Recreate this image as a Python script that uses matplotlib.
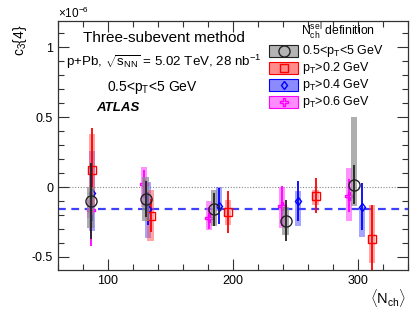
import matplotlib
matplotlib.use("Agg")
import matplotlib.pyplot as plt
from matplotlib.patches import Rectangle
from matplotlib.lines import Line2D
from matplotlib.ticker import MultipleLocator

plt.rcParams['font.family'] = ['Liberation Sans', 'DejaVu Sans']
plt.rcParams['mathtext.fontset'] = 'custom'
plt.rcParams['mathtext.rm'] = 'Liberation Sans'
plt.rcParams['mathtext.it'] = 'Liberation Sans:italic'
plt.rcParams['mathtext.bf'] = 'Liberation Sans:bold'
plt.rcParams['axes.unicode_minus'] = False

# ---- data (values in units of 1e-6) ----
series_labels = ["0.5<p$_{\\rm T}$<5 GeV", "p$_{\\rm T}$>0.2 GeV", "p$_{\\rm T}$>0.4 GeV", "p$_{\\rm T}$>0.6 GeV"]

x_black = [86, 130, 185, 242, 297]
y_black = [-0.10, -0.085, -0.16, -0.24, 0.015]
stat_black = [0.27, 0.13, 0.12, 0.145, 0.14]
syslo_black = [0.19, 0.16, 0.12, 0.10, 0.15]
syshi_black = [0.10, 0.16, 0.14, 0.10, 0.485]

x_red = [87, 134, 196, 266, 311]
y_red = [0.12, -0.205, -0.18, -0.062, -0.37]
stat_red = [0.30, 0.12, 0.15, 0.125, 0.24]
syslo_red = [0.25, 0.18, 0.09, 0.07, 0.175]
syshi_red = [0.26, 0.18, 0.09, 0.04, 0.24]

x_blue = [87, 132, 189, 252, 303]
y_blue = [-0.045, -0.155, -0.135, -0.10, -0.14]
stat_blue = [0.20, 0.12, 0.13, 0.14, 0.17]
syslo_blue = [0.27, 0.21, 0.04, 0.18, 0.22]
syshi_blue = [0.30, 0.19, 0.135, 0.074, 0.0]

x_mag = [86, 129, 181, 239, 293]
y_mag = [-0.165, 0.02, -0.22, -0.136, -0.062]
stat_mag = [0.26, 0.10, 0.08, 0.14, 0.12]
syslo_mag = [0.055, 0.16, 0.09, 0.154, 0.18]
syshi_mag = [0.075, 0.12, 0.12, 0.136, 0.20]

fit_value = -0.16

W, H = 415, 311
fig = plt.figure(figsize=(W/100, H/100), dpi=100)
ax = fig.add_axes([58/W, 1-270/H, (408-58)/W, (270-21)/H])

ax.axhline(0, color='#888888', ls=(0, (1, 1.5)), lw=0.8, zorder=1)
ax.axhline(fit_value, color='#4040ff', ls=(0, (3.5, 2.5)), lw=1.6, zorder=1)

styles = [
    dict(color='#222222', band=(0.55, 0.55, 0.55, 0.7), marker='o', ms=8),
    dict(color='#ff0000', band=(1, 0.3, 0.3, 0.5), marker='s', ms=5.5),
    dict(color='#0000ff', band=(0.3, 0.3, 1, 0.5), marker='d', ms=4.5),
    dict(color='#ff00ff', band=(1, 0.3, 1, 0.6), marker='P', ms=6),
]

def draw(x, y, stat, slo, shi, st, z):
    bottoms = [yy - l for yy, l in zip(y, slo)]
    heights = [l + h for l, h in zip(slo, shi)]
    ax.bar(x, heights, bottom=bottoms, width=5, color=st['band'], edgecolor='none', zorder=z)
    ax.errorbar(x, y, yerr=stat, fmt='none', ecolor=st['color'], elinewidth=1.3, capsize=0, zorder=z+1)
    ax.plot(x, y, ls='none', marker=st['marker'], ms=st['ms'], mfc='none', mec=st['color'], mew=1.0, zorder=z+2)

draw(x_mag, y_mag, stat_mag, syslo_mag, syshi_mag, styles[3], 2)
draw(x_blue, y_blue, stat_blue, syslo_blue, syshi_blue, styles[2], 2)
draw(x_red, y_red, stat_red, syslo_red, syshi_red, styles[1], 2)
draw(x_black, y_black, stat_black, syslo_black, syshi_black, styles[0], 5)

ax.set_xlim(60, 340)
ax.set_ylim(-0.593, 1.186)
ax.xaxis.set_major_locator(MultipleLocator(100))
ax.xaxis.set_minor_locator(MultipleLocator(20))
ax.yaxis.set_major_locator(MultipleLocator(0.5))
ax.yaxis.set_minor_locator(MultipleLocator(0.1))
ax.yaxis.set_major_formatter(matplotlib.ticker.FuncFormatter(lambda v, p: '0' if abs(v) < 1e-9 else '%g' % v))
ax.tick_params(which='both', direction='in', top=True, right=True, labelsize=9, colors='#333333', labelcolor='black')
ax.tick_params(which='major', length=8, width=0.8)
ax.tick_params(which='minor', length=4, width=0.8)
for s in ax.spines.values():
    s.set_color('#333333')
    s.set_linewidth(0.9)

def fx(px):
    return px / W

def fy(py):
    return 1 - py / H

# texts
fig.text(fx(83), fy(38), "Three-subevent method", fontsize=11, va='center', ha='left')
fig.text(fx(66), fy(62), "p+Pb, $\\sqrt{\\rm s_{NN}}$ = 5.02 TeV, 28 nb$^{-1}$", fontsize=9.6, va='center', ha='left')
fig.text(fx(107), fy(87), "0.5<p$_{\\rm T}$<5 GeV", fontsize=10, va='center', ha='left')
fig.text(fx(96), fy(108), "ATLAS", fontsize=9.5, fontweight='bold', fontstyle='italic', va='center', ha='left')
fig.text(fx(58), fy(13), "×10$^{-6}$", fontsize=8.5, va='center', ha='left')
fig.text(fx(20), fy(40), "c$_3${4}", fontsize=10, rotation=90, va='center', ha='center')
fig.text(fx(406), fy(298), "$\\langle$N$_{\\rm ch}$$\\rangle$", fontsize=10.5, va='center', ha='right')

# legend (manual layout)
fig.text(fx(301), fy(32), "N$_{\\rm ch}^{\\rm sel}$ definition", fontsize=8.8, va='center', ha='left')
for i, (lab, st) in enumerate(zip(series_labels, styles)):
    yc = 51 + 17 * i
    rect = Rectangle((fx(269), fy(yc + 6)), (298 - 269) / W, 12 / H, transform=fig.transFigure,
                     facecolor=st['band'][:3] + (0.65,), edgecolor=st['color'], lw=0.8)
    fig.add_artist(rect)
    fig.add_artist(Line2D([fx(283.5)], [fy(yc)], transform=fig.transFigure, ls='none',
                          marker=st['marker'], ms=st['ms'], mfc='none', mec=st['color'], mew=1.0))
    fig.text(fx(302), fy(yc), lab, fontsize=9, va='center', ha='left')

fig.savefig("out.png", dpi=100)
